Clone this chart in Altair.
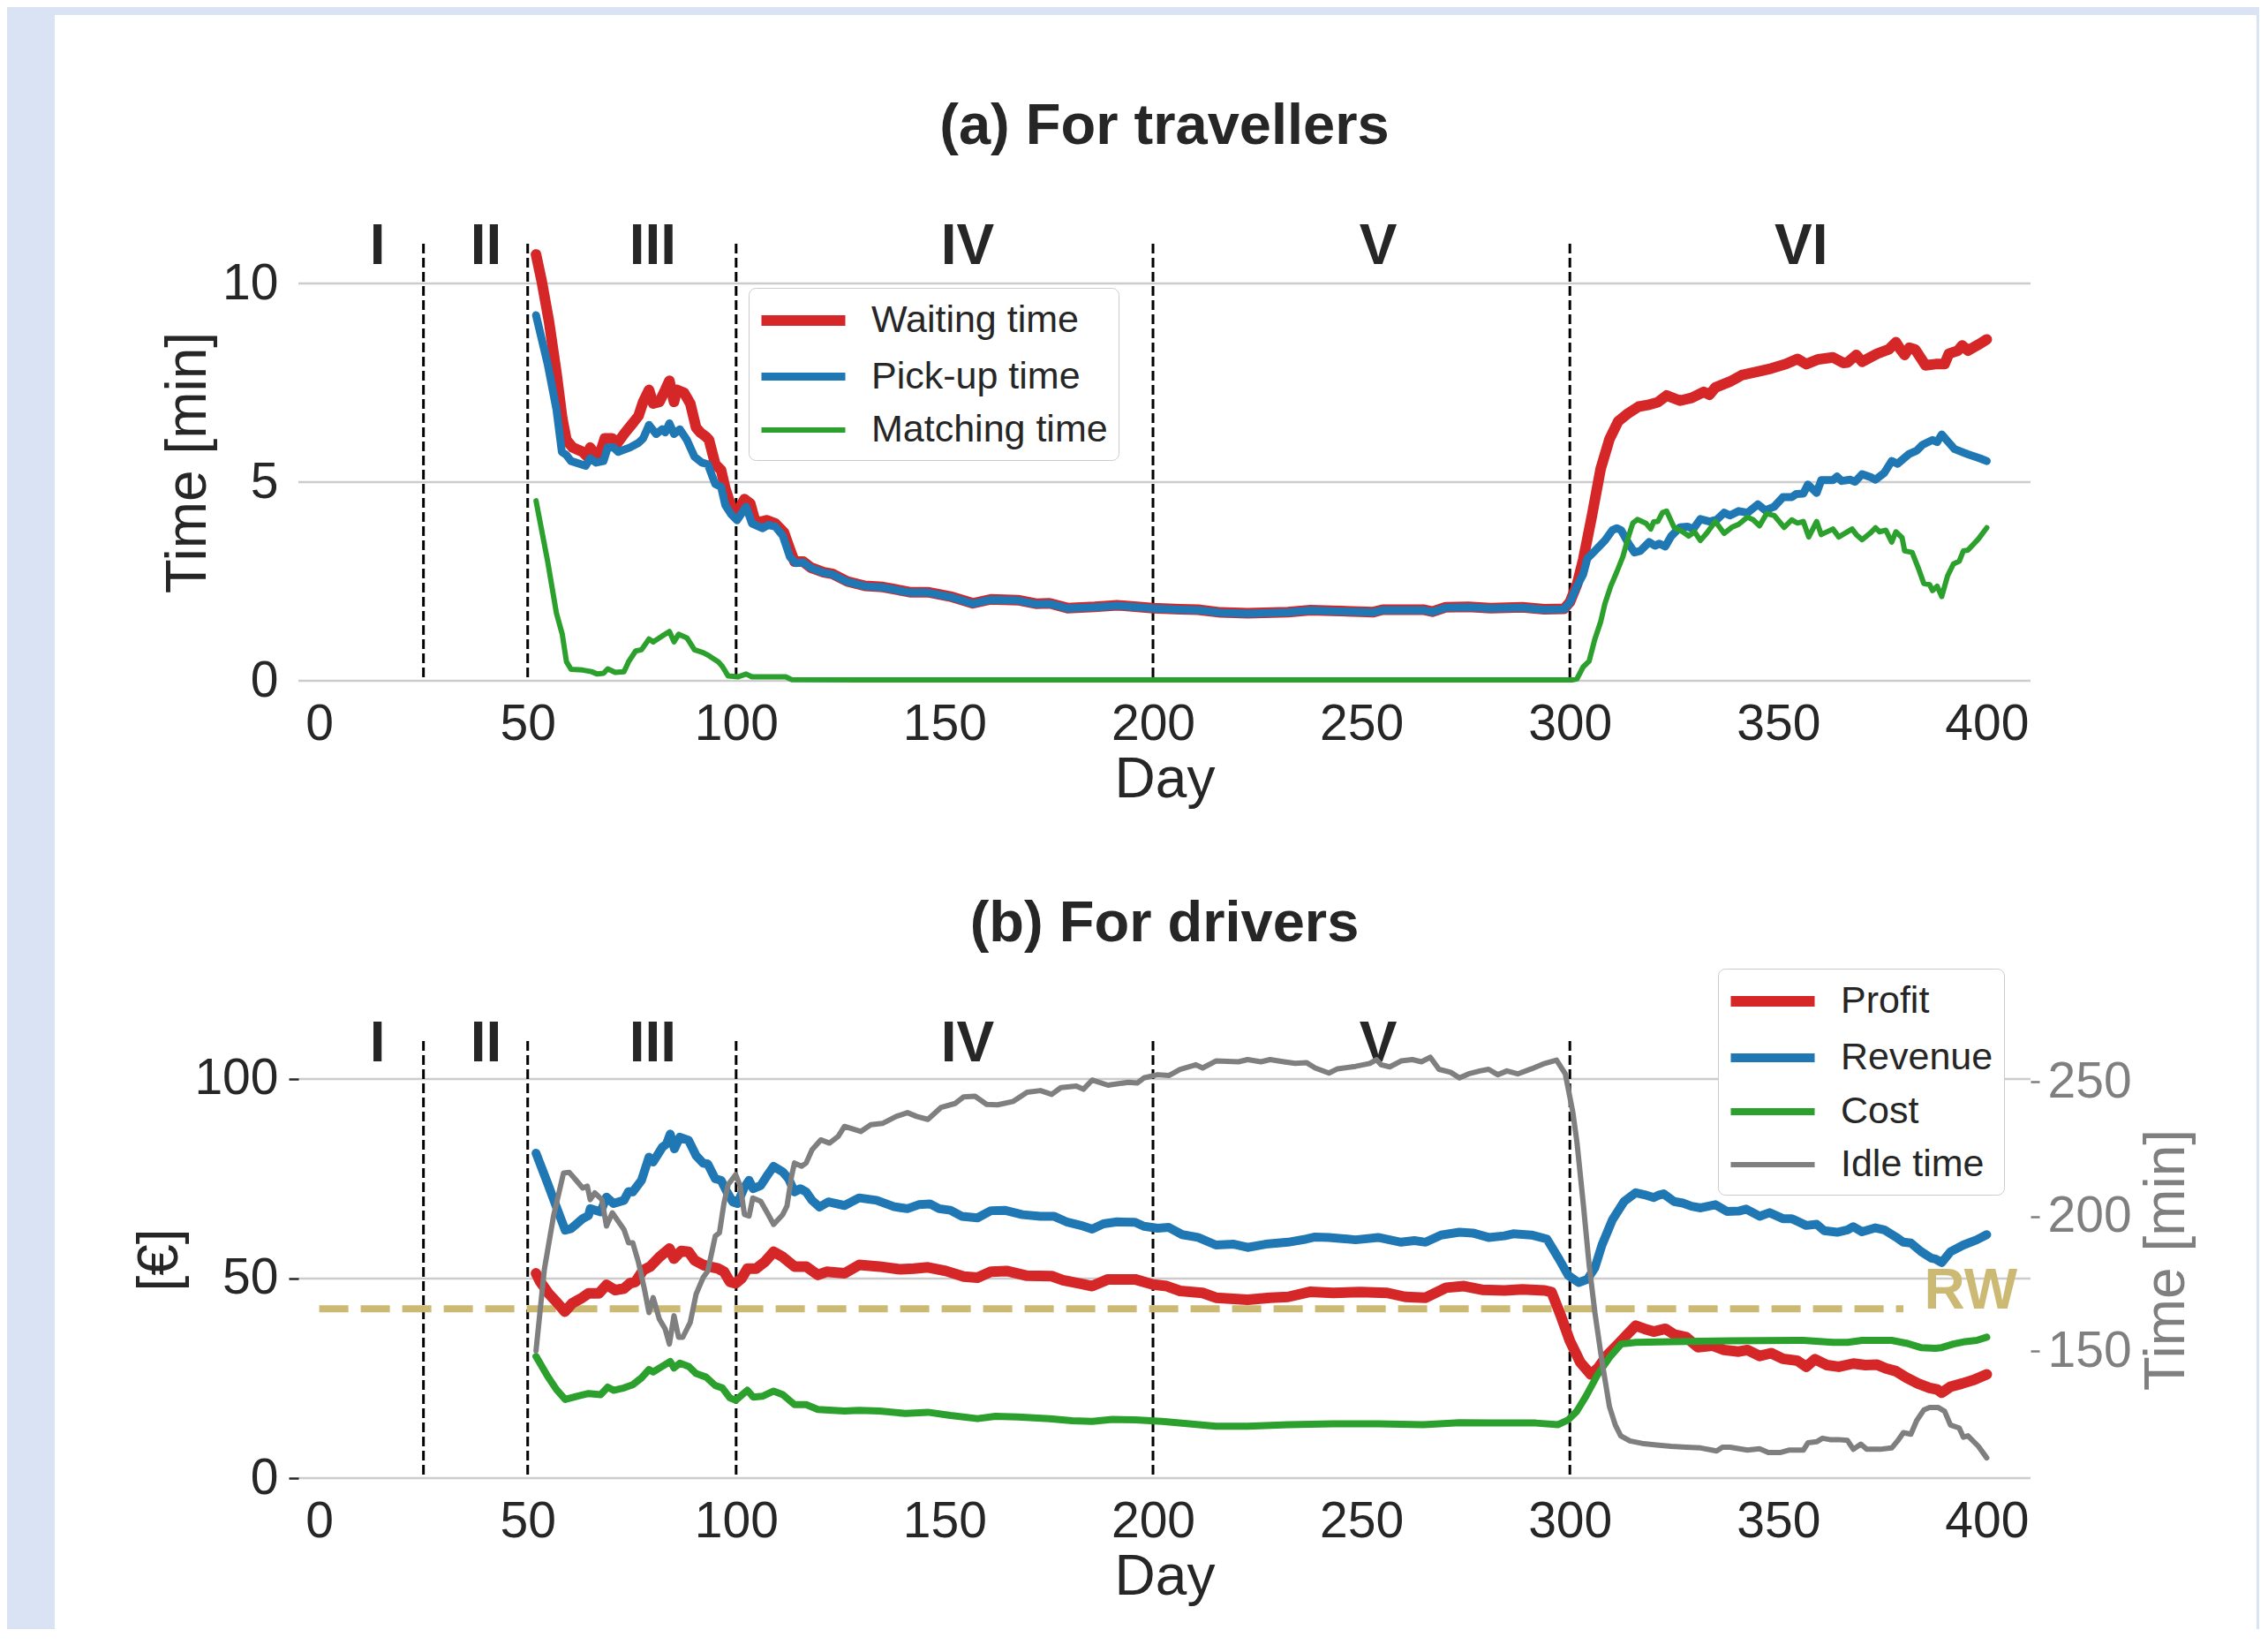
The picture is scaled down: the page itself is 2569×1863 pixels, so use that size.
import altair as alt
import pandas as pd

# ---------------- data: panel (a) travellers ----------------
waiting_time = [
    (52, 10.73), (53.4, 10.04), (55.1, 9.05), (56.9, 7.75), (58.3, 6.6), (59.3, 6.06), (60.8, 5.87),
    (63.2, 5.76), (64.3, 5.64), (65.0, 5.87), (66.0, 5.72), (67.1, 5.64), (68.5, 6.1), (70.3, 6.1),
    (71.3, 5.95), (73.4, 6.25), (75.2, 6.48), (76.6, 6.67), (77.7, 7.02), (79.1, 7.32), (80.1, 6.98),
    (81.6, 7.02), (83.0, 7.32), (84.0, 7.55), (85.1, 7.02), (85.8, 7.32), (87.5, 7.25), (89.0, 6.98),
    (90.4, 6.37), (91.4, 6.25), (92.8, 6.14), (93.5, 6.06), (95.0, 5.45), (96.4, 5.3), (97.4, 4.84),
    (98.8, 4.38), (100.2, 4.23), (102.0, 4.57), (103.4, 4.46), (104.5, 4.04), (105.9, 4.0), (107.3, 4.04),
    (109.4, 3.96), (111.5, 3.73), (112.9, 3.31), (114.0, 3.0), (116.1, 3.0), (117.9, 2.85), (121.0, 2.73),
    (123.1, 2.69), (126.7, 2.5), (130.9, 2.39), (135.2, 2.36), (141.7, 2.23), (146.0, 2.23), (151.4, 2.12),
    (156.8, 1.95), (161.1, 2.05), (167.6, 2.03), (171.9, 1.94), (175.2, 1.95), (179.5, 1.83), (186.0, 1.86),
    (191.4, 1.9), (200.0, 1.83), (206.5, 1.8), (210.8, 1.79), (216.2, 1.72), (222.7, 1.7), (232.4, 1.73),
    (237.8, 1.78), (252.9, 1.73), (255.1, 1.79), (264.8, 1.79), (267.0, 1.74), (270.2, 1.85), (275.6, 1.86),
    (281.0, 1.83), (288.6, 1.85), (293.9, 1.8), (298.6, 1.81), (300.0, 1.98), (301.7, 2.42), (303.2, 3.05),
    (305.3, 4.16), (307.4, 5.34), (309.5, 6.08), (311.6, 6.53), (313.7, 6.71), (316.5, 6.9), (318.7, 6.94),
    (321.1, 7.01), (323.2, 7.18), (326.4, 7.05), (329.2, 7.12), (332.1, 7.27), (333.5, 7.2), (334.9, 7.38),
    (338.4, 7.53), (341.2, 7.69), (345.5, 7.79), (348.3, 7.86), (351.8, 7.97), (354.6, 8.1), (356.7, 7.97),
    (359.6, 8.09), (363.1, 8.14), (365.6, 8.0), (366.6, 8.01), (368.7, 8.2), (370.1, 8.03), (373.7, 8.23),
    (376.5, 8.34), (378.2, 8.52), (379.3, 8.34), (380.3, 8.2), (381.4, 8.38), (382.8, 8.34), (384.2, 8.12),
    (385.3, 7.94), (387.7, 7.97), (389.9, 7.97), (390.9, 8.23), (393.1, 8.31), (394.1, 8.44), (395.5, 8.31),
    (398.0, 8.46), (400, 8.59),
]
pickup_time = [
    (52, 9.2), (54.8, 7.97), (56.9, 6.83), (58.2, 5.76), (59.3, 5.68), (60.4, 5.53), (63.9, 5.41),
    (65.0, 5.6), (66.4, 5.49), (68.2, 5.53), (69.2, 5.87), (70.6, 5.87), (71.7, 5.76), (74.5, 5.87),
    (76.6, 5.99), (77.7, 6.1), (79.1, 6.44), (80.8, 6.21), (82.3, 6.33), (83.0, 6.25), (84.0, 6.48),
    (85.1, 6.21), (86.5, 6.33), (88.2, 6.06), (90.0, 5.64), (91.8, 5.49), (93.2, 5.45), (95.0, 4.95),
    (96.4, 4.88), (97.4, 4.42), (98.8, 4.19), (100.2, 4.04), (102.4, 4.38), (103.8, 3.96), (106.3, 3.84),
    (107.7, 3.92), (109.4, 3.88), (111.2, 3.65), (112.9, 3.12), (114.3, 2.96), (116.1, 2.98), (117.9, 2.84),
    (121.0, 2.72), (123.1, 2.68), (126.7, 2.49), (130.9, 2.38), (135.2, 2.35), (141.7, 2.22), (146.0, 2.22),
    (151.4, 2.11), (156.8, 1.94), (161.1, 2.04), (167.6, 2.02), (171.9, 1.93), (175.2, 1.94), (179.5, 1.82),
    (186.0, 1.85), (191.4, 1.89), (200.0, 1.82), (206.5, 1.79), (210.8, 1.78), (216.2, 1.71), (222.7, 1.69),
    (232.4, 1.72), (237.8, 1.77), (252.9, 1.72), (255.1, 1.78), (264.8, 1.78), (267.0, 1.73), (270.2, 1.84),
    (275.6, 1.85), (281.0, 1.82), (288.6, 1.84), (293.9, 1.79), (298.6, 1.8), (300.0, 1.97), (301.7, 2.38),
    (303.2, 2.68), (304.2, 3.08), (306.0, 3.27), (308.4, 3.53), (310.2, 3.79), (311.3, 3.84), (312.3, 3.79),
    (314.1, 3.45), (315.5, 3.23), (316.9, 3.27), (319.0, 3.49), (320.4, 3.4), (321.5, 3.45), (322.9, 3.38),
    (324.3, 3.64), (326.4, 3.86), (328.2, 3.88), (329.6, 3.82), (331.3, 4.07), (333.5, 4.01), (335.2, 4.05),
    (337.0, 4.23), (338.4, 4.16), (340.5, 4.27), (342.6, 4.23), (345.1, 4.44), (346.9, 4.29), (349.0, 4.38),
    (351.1, 4.62), (353.2, 4.62), (354.3, 4.7), (356.0, 4.71), (357.1, 4.94), (359.2, 4.73), (360.3, 5.05),
    (363.1, 5.05), (364.1, 5.14), (365.2, 5.03), (367.3, 5.06), (368.4, 5.01), (370.1, 5.2), (372.2, 5.12),
    (373.3, 5.06), (375.4, 5.23), (377.2, 5.53), (378.6, 5.46), (381.4, 5.71), (383.2, 5.79), (384.6, 5.94),
    (387.0, 6.06), (388.1, 6.01), (389.2, 6.2), (390.6, 6.03), (392.3, 5.83), (395.5, 5.7), (398.3, 5.6),
    (400, 5.53),
]
matching_time = [
    (52, 4.53), (54.8, 3.0), (56.9, 1.7), (58.3, 1.17), (59.3, 0.48), (60.4, 0.29), (63.2, 0.27),
    (65.3, 0.23), (66.7, 0.17), (68.2, 0.19), (69.2, 0.3), (71.0, 0.21), (73.1, 0.23), (74.2, 0.48),
    (75.9, 0.75), (77.3, 0.78), (79.1, 1.05), (80.1, 0.98), (82.3, 1.13), (84.0, 1.24), (85.1, 0.98),
    (86.2, 1.17), (88.2, 1.08), (90.0, 0.78), (92.1, 0.71), (93.5, 0.63), (95.7, 0.48), (96.7, 0.36),
    (98.1, 0.12), (100.5, 0.1), (102.4, 0.17), (103.8, 0.1), (111.9, 0.1), (113.3, 0.03), (130, 0.02),
    (200, 0.02), (270, 0.02), (300.5, 0.02), (301.7, 0.05), (303.2, 0.35), (304.6, 0.49), (306.0, 1.05),
    (307.4, 1.49), (308.4, 1.94), (309.8, 2.38), (311.3, 2.75), (312.7, 3.12), (314.1, 3.64), (315.1, 3.97),
    (316.2, 4.06), (318.3, 3.96), (319.4, 3.82), (320.1, 4.0), (321.1, 4.01), (322.2, 4.23), (323.2, 4.27),
    (325.0, 3.86), (327.1, 3.75), (328.5, 3.64), (329.9, 3.75), (331.3, 3.53), (332.8, 3.71), (334.9, 4.01),
    (337.0, 3.71), (338.8, 3.86), (340.5, 3.94), (342.6, 4.12), (344.0, 4.05), (345.5, 3.9), (347.2, 4.21),
    (349.0, 4.16), (351.4, 3.86), (353.2, 4.05), (354.6, 3.97), (356.0, 4.01), (357.3, 3.62), (359.2, 4.01),
    (360.3, 3.68), (363.1, 3.82), (364.5, 3.62), (367.7, 3.82), (368.7, 3.68), (370.1, 3.55), (372.2, 3.73),
    (373.3, 3.85), (374.3, 3.75), (375.8, 3.79), (377.2, 3.49), (378.2, 3.75), (379.7, 3.6), (380.3, 3.27),
    (382.1, 3.23), (383.5, 2.86), (384.9, 2.45), (386.3, 2.42), (387.0, 2.27), (388.1, 2.38), (389.2, 2.12),
    (390.6, 2.64), (392.0, 2.94), (393.4, 3.01), (394.4, 3.27), (395.5, 3.29), (398.0, 3.57), (400, 3.85),
]

# ---------------- data: panel (b) drivers ----------------
profit = [
    (52, 51.3), (53.0, 49.2), (55.0, 46.3), (57.2, 43.8), (58.9, 41.7), (60.7, 43.8), (62.8, 45.0),
    (64.6, 46.3), (67.1, 46.3), (68.9, 48.4), (71.0, 47.1), (73.1, 47.5), (74.5, 48.8), (75.9, 49.2),
    (77.7, 52.1), (79.4, 53.0), (81.6, 55.4), (84.0, 57.5), (85.1, 55.0), (86.8, 56.9), (88.6, 56.7),
    (90.0, 54.6), (92.1, 53.4), (93.5, 53.0), (95.7, 52.5), (97.1, 51.7), (98.5, 49.2), (99.9, 48.8),
    (101.3, 50.0), (102.7, 52.5), (104.8, 52.5), (106.9, 54.2), (109.0, 56.7), (111.2, 55.4), (114.0, 53.0),
    (116.8, 53.0), (119.6, 50.9), (121.7, 51.7), (126.0, 51.3), (129.5, 53.4), (134.4, 53.0), (139.4, 52.3),
    (142.6, 52.5), (146.0, 52.8), (150.3, 51.9), (154.6, 50.5), (157.9, 50.2), (161.1, 51.7), (164.9, 51.9),
    (169.8, 50.7), (175.7, 50.6), (178.4, 49.6), (182.7, 48.7), (185.4, 48.1), (189.2, 49.8), (195.7, 49.8),
    (200.0, 48.5), (203.3, 48.1), (206.5, 46.9), (211.9, 46.4), (215.1, 45.2), (222.7, 44.7), (228.1, 45.2),
    (232.4, 45.4), (237.8, 46.7), (243.2, 46.4), (249.7, 46.6), (256.2, 46.4), (260.5, 45.4), (265.4, 45.2),
    (270.3, 47.7), (274.6, 48.1), (278.9, 47.2), (284.3, 47.0), (288.6, 47.3), (294.0, 47.0), (295.6, 46.6),
    (297.9, 40.5), (300.0, 34.4), (302.5, 29.0), (305.0, 26.0), (306.7, 27.5), (308.8, 30.6), (311.6, 33.6),
    (313.7, 35.9), (315.8, 38.2), (317.9, 37.4), (320.1, 36.7), (322.9, 37.4), (325.0, 36.0), (327.9, 35.3),
    (330.7, 32.8), (334.2, 33.2), (337.0, 32.1), (340.5, 31.7), (342.6, 32.1), (345.5, 30.6), (348.3, 31.3),
    (351.1, 29.9), (354.6, 29.4), (356.7, 27.9), (358.8, 29.8), (361.7, 28.3), (364.5, 27.9), (368.0, 28.7),
    (370.9, 28.3), (373.7, 28.4), (375.8, 27.5), (378.2, 26.8), (380.7, 25.2), (383.5, 23.7), (386.3, 22.6),
    (388.1, 22.2), (389.2, 21.4), (391.3, 22.9), (394.1, 23.7), (396.9, 24.6), (400, 26.0),
]
revenue = [
    (52, 81.4), (54.8, 73.8), (56.9, 67.9), (59.0, 62.1), (60.4, 62.5), (63.2, 65.0), (64.6, 65.8),
    (65.0, 67.5), (67.5, 66.7), (68.9, 70.4), (70.6, 68.8), (73.1, 69.6), (74.2, 71.8), (75.2, 71.7),
    (77.3, 74.6), (79.1, 80.4), (80.1, 79.2), (82.3, 82.9), (83.3, 83.7), (84.2, 86.2), (85.2, 82.5),
    (86.5, 85.4), (88.6, 84.6), (90.4, 80.8), (92.1, 78.9), (93.2, 78.7), (95.0, 75.0), (96.4, 74.6),
    (97.8, 71.7), (99.2, 69.2), (100.3, 68.8), (102.0, 72.9), (103.1, 74.6), (104.1, 72.5), (105.9, 73.3),
    (107.7, 76.2), (109.0, 78.1), (111.2, 76.7), (112.6, 75.0), (114.0, 71.7), (115.4, 72.5), (116.8, 71.7),
    (118.2, 69.6), (120.0, 67.9), (122.1, 69.2), (126.0, 68.3), (129.5, 70.2), (133.7, 69.6), (137.9, 68.0),
    (141.1, 67.5), (143.8, 68.5), (146.5, 68.7), (148.7, 67.5), (151.4, 67.1), (154.1, 65.6), (157.9, 65.2),
    (161.1, 67.0), (164.4, 67.1), (168.7, 66.0), (173.0, 65.6), (176.2, 65.6), (179.5, 64.1), (182.7, 63.3),
    (185.4, 62.4), (188.1, 63.7), (191.4, 64.2), (195.7, 64.1), (197.8, 63.1), (201.1, 62.6), (203.8, 62.8),
    (207.0, 61.0), (210.8, 60.3), (215.1, 58.4), (219.4, 58.6), (222.7, 57.8), (227.0, 58.6), (232.4, 59.1),
    (236.8, 59.9), (238.9, 60.4), (242.2, 60.3), (248.6, 59.7), (254.0, 60.3), (259.5, 59.1), (262.7, 59.5),
    (265.4, 59.1), (269.1, 60.9), (273.5, 61.6), (276.7, 61.4), (280.5, 60.3), (284.3, 60.7), (286.4, 61.2),
    (290.8, 60.9), (294.5, 59.9), (297.4, 54.9), (299.6, 50.8), (302.1, 49.0), (304.2, 49.8), (306.0, 52.7),
    (307.7, 58.4), (310.2, 64.7), (313.0, 69.3), (315.8, 71.5), (317.9, 71.0), (320.1, 70.3), (321.1, 70.8),
    (322.5, 71.2), (325.0, 69.3), (327.1, 68.9), (329.2, 68.1), (331.4, 67.7), (334.9, 68.5), (337.7, 66.8),
    (340.5, 66.9), (342.3, 67.4), (345.5, 65.6), (347.9, 66.5), (351.1, 65.0), (353.2, 65.0), (356.7, 63.3),
    (359.2, 63.6), (361.0, 62.0), (364.1, 61.6), (366.6, 62.2), (368.0, 63.0), (370.1, 61.7), (373.3, 62.7),
    (375.4, 62.2), (378.2, 60.4), (380.0, 59.1), (381.8, 58.9), (384.2, 56.8), (386.7, 55.1), (387.7, 54.9),
    (389.2, 54.0), (391.3, 56.7), (394.4, 58.4), (397.6, 59.7), (400, 61.0),
]
cost = [
    (52, 30.5), (54.8, 25.5), (56.9, 22.2), (59.0, 19.7), (61.8, 20.5), (64.6, 21.2), (67.5, 20.9),
    (69.2, 22.8), (70.6, 22.0), (73.1, 22.6), (75.2, 23.4), (77.3, 25.1), (79.1, 27.2), (80.1, 26.6),
    (82.3, 28.0), (84.2, 29.2), (85.1, 27.6), (86.5, 28.8), (88.6, 28.0), (90.4, 26.2), (92.8, 25.3),
    (95.0, 23.2), (96.7, 22.6), (98.5, 20.1), (99.9, 19.5), (102.7, 22.0), (104.1, 20.3), (106.3, 20.5),
    (109.0, 21.8), (111.2, 20.9), (114.0, 18.4), (116.8, 18.4), (119.6, 17.2), (126.0, 16.8), (129.5, 17.0),
    (134.4, 16.8), (140.6, 16.2), (146.0, 16.5), (151.4, 15.7), (157.9, 14.9), (162.2, 15.5), (167.6, 15.3),
    (175.2, 14.9), (180.6, 14.4), (185.4, 14.2), (190.3, 14.7), (195.7, 14.6), (202.2, 14.2), (208.7, 13.6),
    (215.1, 13.0), (222.7, 13.0), (232.4, 13.4), (243.2, 13.6), (254.0, 13.6), (264.8, 13.4), (273.5, 13.9),
    (281.0, 13.8), (291.8, 13.8), (297.2, 13.4), (299.6, 14.6), (301.7, 16.8), (303.9, 20.6), (306.7, 26.0),
    (309.5, 30.2), (312.3, 33.6), (315.8, 34.0), (324.3, 34.2), (338.4, 34.4), (356.0, 34.5), (363.1, 34.0),
    (366.6, 34.0), (370.1, 34.5), (377.2, 34.5), (380.7, 33.8), (384.2, 32.7), (387.7, 32.5), (389.2, 32.7),
    (392.0, 33.6), (394.8, 34.2), (397.6, 34.5), (400, 35.3),
]
idle_time = [
    (52, 150.1), (54.0, 180.3), (56.2, 200.1), (58.6, 216.1), (60.0, 216.3), (61.5, 213.6), (63.2, 210.5),
    (64.3, 211.2), (65.0, 206.2), (66.1, 208.7), (67.8, 206.2), (68.9, 196.4), (70.3, 201.3), (71.7, 198.2),
    (73.1, 195.1), (74.2, 190.2), (75.2, 190.2), (76.6, 182.8), (78.0, 173.0), (79.1, 164.3), (80.1, 169.8),
    (81.6, 161.8), (83.0, 158.1), (84.0, 152.6), (85.1, 163.1), (86.2, 155.1), (87.2, 155.1), (89.0, 160.6),
    (90.4, 171.1), (92.1, 177.3), (93.2, 179.7), (95.0, 192.7), (96.0, 193.9), (97.1, 205.0), (98.1, 211.8),
    (99.9, 215.5), (101.0, 211.2), (102.0, 200.7), (103.1, 200.1), (104.0, 206.8), (105.9, 205.6),
    (107.7, 200.7), (109.0, 197.0), (111.2, 200.7), (112.2, 203.8), (113.3, 214.9), (114.0, 219.8),
    (115.7, 218.6), (116.8, 219.8), (118.2, 224.7), (120.3, 228.4), (122.4, 227.2), (124.5, 229.7),
    (126.0, 233.4), (129.9, 231.5), (132.3, 234.0), (135.1, 234.5), (138.4, 237.1), (141.1, 238.5),
    (143.3, 237.1), (146.0, 236.0), (149.2, 240.5), (152.5, 241.9), (154.6, 244.4), (157.3, 244.6),
    (160.1, 241.6), (162.7, 241.4), (166.5, 242.7), (169.8, 246.1), (173.0, 246.7), (175.7, 245.3),
    (177.9, 247.8), (181.6, 248.4), (183.3, 247.2), (185.4, 250.6), (189.2, 248.7), (194.1, 249.8),
    (196.2, 249.5), (197.8, 251.4), (201.1, 252.6), (203.8, 252.3), (206.5, 254.6), (210.3, 256.3),
    (211.9, 255.1), (215.1, 257.7), (220.5, 257.4), (222.7, 258.2), (225.9, 257.4), (228.1, 258.2),
    (231.4, 257.4), (234.1, 256.8), (236.8, 257.1), (238.9, 255.1), (242.2, 253.2), (244.3, 254.8),
    (248.6, 255.7), (252.0, 256.8), (253.6, 258.2), (254.7, 256.3), (256.8, 255.5), (259.5, 257.7),
    (262.2, 258.2), (264.4, 257.4), (266.5, 259.1), (268.6, 254.6), (271.4, 253.5), (273.5, 251.4),
    (275.7, 252.9), (278.4, 254.0), (280.5, 254.6), (282.7, 252.6), (284.9, 254.0), (287.5, 252.9),
    (290.8, 254.8), (294.0, 256.8), (296.8, 258.0), (298.9, 252.9), (300.7, 238.8), (301.7, 227.5),
    (303.2, 204.9), (304.6, 182.3), (306.0, 164.3), (307.7, 146.2), (309.5, 129.3), (310.9, 122.5),
    (312.2, 118.5), (314.4, 116.6), (317.3, 115.7), (320.8, 115.1), (324.3, 114.6), (327.9, 114.3),
    (331.4, 114.0), (335.2, 112.9), (336.6, 114.3), (338.4, 114.3), (342.6, 113.2), (345.5, 113.7),
    (347.6, 112.3), (350.4, 112.3), (352.5, 113.2), (356.0, 113.2), (357.1, 115.9), (359.2, 116.3),
    (360.6, 117.6), (362.4, 117.1), (364.5, 117.1), (366.6, 116.8), (368.0, 113.5), (369.8, 115.4),
    (371.2, 113.5), (374.4, 113.5), (377.2, 114.0), (378.6, 116.6), (380.0, 119.7), (381.8, 119.1),
    (383.2, 124.2), (384.9, 128.1), (386.3, 129.0), (388.4, 129.0), (389.9, 127.6), (391.3, 122.5),
    (393.4, 121.4), (394.4, 118.0), (395.5, 118.5), (398.0, 114.6), (400, 110.3),
]

phase_bounds = [25, 50, 100, 200, 300]
phase_labels = ["I", "II", "III", "IV", "V", "VI"]
phase_label_day = [14, 40, 80, 155.5, 254, 355.5]
rw_value = 42.4
rw_span = [0, 380]
rw_label_day = 385
x_ticks = [0, 50, 100, 150, 200, 250, 300, 350, 400]
a_ticks = [0, 5, 10]
b_left_ticks = [0, 50, 100]
b_right_ticks = [150, 200, 250]
a_names = ["Waiting time", "Pick-up time", "Matching time"]
b_names = ["Profit", "Revenue", "Cost", "Idle time"]

# ---------------- styling ----------------
FONT = "Liberation Sans"
DARK = "#262626"
GRID_C = "#cccccc"
PAGE_BG = "#dae3f3"
RW_C = "#ccb974"
IDLE_C = "#7f7f7f"
a_colors = ["#d62728", "#1f77b4", "#2ca02c"]
b_colors = ["#d62728", "#1f77b4", "#2ca02c", IDLE_C]
W, H = 1962, 495


def to_df(named):
    rows = []
    for name, pairs in named:
        for d, v in pairs:
            rows.append({"day": d, "value": v, "series": name})
    return pd.DataFrame(rows)


df_a = to_df([("Waiting time", waiting_time), ("Pick-up time", pickup_time), ("Matching time", matching_time)])
df_b = to_df([("Profit", profit), ("Revenue", revenue), ("Cost", cost)])
df_idle = to_df([("Idle time", idle_time)])

x_scale = alt.Scale(domain=[-5, 410.5], nice=False, zero=False)
ya_scale = alt.Scale(domain=[0, 11], nice=False, zero=False)
yb_scale = alt.Scale(domain=[0, 109.5], nice=False, zero=False)
yr_scale = alt.Scale(domain=[102.8, 265.1], nice=False, zero=False)

x_axis = alt.Axis(values=x_ticks, title="Day", labelFontSize=57, titleFontSize=64, labelColor=DARK,
                  titleColor=DARK, titleFontWeight="normal", domain=False, ticks=False, tickSize=0,
                  grid=False, labelPadding=21, titlePadding=3, zindex=1, labelFlush=False,
                  labelOverlap=False, labelFont=FONT, titleFont=FONT)
ya_axis = alt.Axis(values=a_ticks, title="Time [min]", labelFontSize=57, titleFontSize=64, labelColor=DARK,
                   titleColor=DARK, titleFontWeight="normal", domain=False, ticks=False, tickSize=0,
                   grid=False, labelPadding=23, titlePadding=6, zindex=1, labelFont=FONT, titleFont=FONT)
yb_axis = alt.Axis(values=b_left_ticks, title="[€]", labelFontSize=57, titleFontSize=64, labelColor=DARK,
                   titleColor=DARK, titleFontWeight="normal", domain=False, ticks=True, tickSize=11,
                   tickWidth=2.5, tickColor=DARK, grid=False, labelPadding=12, titlePadding=6, zindex=1,
                   labelFont=FONT, titleFont=FONT)
yr_axis = alt.Axis(values=b_right_ticks, orient="right", title="Time [min]", labelFontSize=57,
                   titleFontSize=64, labelColor=IDLE_C, titleColor=IDLE_C, titleFontWeight="normal",
                   domain=False, ticks=True, tickSize=10, tickWidth=2.5, tickColor=IDLE_C, grid=False,
                   labelPadding=9, titlePadding=8, titleAngle=270, titleBaseline="top", zindex=1,
                   labelFont=FONT, titleFont=FONT)


def legend_spec(lx, ly):
    return alt.Legend(orient="none", legendX=lx, legendY=ly, title=None,
                      symbolType="M-2.5,0L2.5,0", symbolSize=1444, symbolOffset=25,
                      labelFontSize=43, labelColor=DARK, labelFont=FONT, labelLimit=600,
                      labelOffset=52, padding=12, rowPadding=16, fillColor="white", strokeColor=GRID_C,
                      cornerRadius=8, zindex=1)


def white_sheet(y_top, y_bottom):
    return alt.Chart(pd.DataFrame({"k": [0]})).mark_rect(color="white").encode(
        x=alt.value(-276), x2=alt.value(W + 256), y=alt.value(y_top), y2=alt.value(y_bottom))


def hgrid(vals, scale, axis):
    return alt.Chart(pd.DataFrame({"value": vals})).mark_rule(color=GRID_C, strokeWidth=2.5).encode(
        y=alt.Y("value:Q", scale=scale, axis=axis), x=alt.value(0), x2=alt.value(W))


def phase_rules():
    return alt.Chart(pd.DataFrame({"day": phase_bounds})).mark_rule(
        color="black", strokeWidth=3, strokeDash=[11, 5]).encode(
        x=alt.X("day:Q", scale=x_scale, axis=x_axis), y=alt.value(0), y2=alt.value(H))


def phase_text():
    return alt.Chart(pd.DataFrame({"day": phase_label_day, "t": phase_labels})).mark_text(
        fontSize=64, fontWeight="bold", color=DARK, align="center", baseline="alphabetic", font=FONT).encode(
        x=alt.X("day:Q", scale=x_scale, axis=x_axis), y=alt.value(22.5), text="t:N")


def panel_title(s):
    return alt.Chart(pd.DataFrame({"t": [s]})).mark_text(
        fontSize=65, fontWeight="bold", color=DARK, align="center", baseline="alphabetic", font=FONT).encode(
        x=alt.value(W / 2), y=alt.value(-113), text="t:N")


# ---------------- panel (a) ----------------
leg_a = legend_spec(510, 50)
lines_a = alt.Chart(df_a).mark_line(strokeJoin="round", strokeCap="round").encode(
    x=alt.X("day:Q", scale=x_scale, axis=x_axis),
    y=alt.Y("value:Q", scale=ya_scale, axis=ya_axis),
    color=alt.Color("series:N", scale=alt.Scale(domain=a_names, range=a_colors), legend=leg_a),
    strokeWidth=alt.StrokeWidth("series:N", scale=alt.Scale(domain=a_names, range=[12, 6, 6]), legend=leg_a),
)
panel_a = alt.layer(
    white_sheet(-259, H + 204), hgrid(a_ticks, ya_scale, ya_axis), phase_rules(), phase_text(),
    panel_title("(a) For travellers"), lines_a,
).properties(width=W, height=H)

# ---------------- panel (b) ----------------
leg_b = legend_spec(1608, -82)
lines_b = alt.Chart(df_b).mark_line(strokeJoin="round", strokeCap="round").encode(
    x=alt.X("day:Q", scale=x_scale, axis=x_axis),
    y=alt.Y("value:Q", scale=yb_scale, axis=yb_axis),
    color=alt.Color("series:N", scale=alt.Scale(domain=b_names, range=b_colors), legend=leg_b),
    strokeWidth=alt.StrokeWidth("series:N", scale=alt.Scale(domain=b_names, range=[12, 6, 6, 6]), legend=leg_b),
)
rw_line = alt.Chart(pd.DataFrame({"day": [rw_span[0]], "x1": [rw_span[1]], "value": [rw_value]})).mark_rule(
    color=RW_C, strokeWidth=8, strokeDash=[33, 14]).encode(
    x=alt.X("day:Q", scale=x_scale, axis=x_axis), x2="x1:Q",
    y=alt.Y("value:Q", scale=yb_scale, axis=yb_axis))
rw_text = alt.Chart(pd.DataFrame({"day": [rw_label_day], "value": [rw_value], "t": ["RW"]})).mark_text(
    fontSize=64, fontWeight="bold", color=RW_C, align="left", baseline="alphabetic", font=FONT).encode(
    x=alt.X("day:Q", scale=x_scale, axis=x_axis), y=alt.Y("value:Q", scale=yb_scale, axis=yb_axis),
    text="t:N")

left_group = alt.layer(
    white_sheet(-206, 666), hgrid(b_left_ticks, yb_scale, yb_axis), phase_rules(), phase_text(),
    panel_title("(b) For drivers"), rw_line, rw_text, lines_b,
)
idle_line = alt.Chart(df_idle).mark_line(strokeWidth=6, strokeJoin="round", strokeCap="round").encode(
    x=alt.X("day:Q", scale=x_scale, axis=x_axis),
    y=alt.Y("value:Q", scale=yr_scale, axis=yr_axis),
    color=alt.Color("series:N", scale=alt.Scale(domain=b_names, range=b_colors), legend=None),
)
panel_b = alt.layer(left_group, idle_line).resolve_scale(y="independent").properties(width=W, height=H)

chart = alt.vconcat(panel_a, panel_b, spacing=408, bounds="flush").resolve_scale(
    color="independent", strokeWidth="independent", x="independent", y="independent"
).properties(
    padding={"left": 54, "top": 9, "right": 3, "bottom": 0}, background=PAGE_BG
).configure(font=FONT).configure_view(stroke=None)

chart.save("out.html", embed_options={"renderer": "svg", "actions": False})
